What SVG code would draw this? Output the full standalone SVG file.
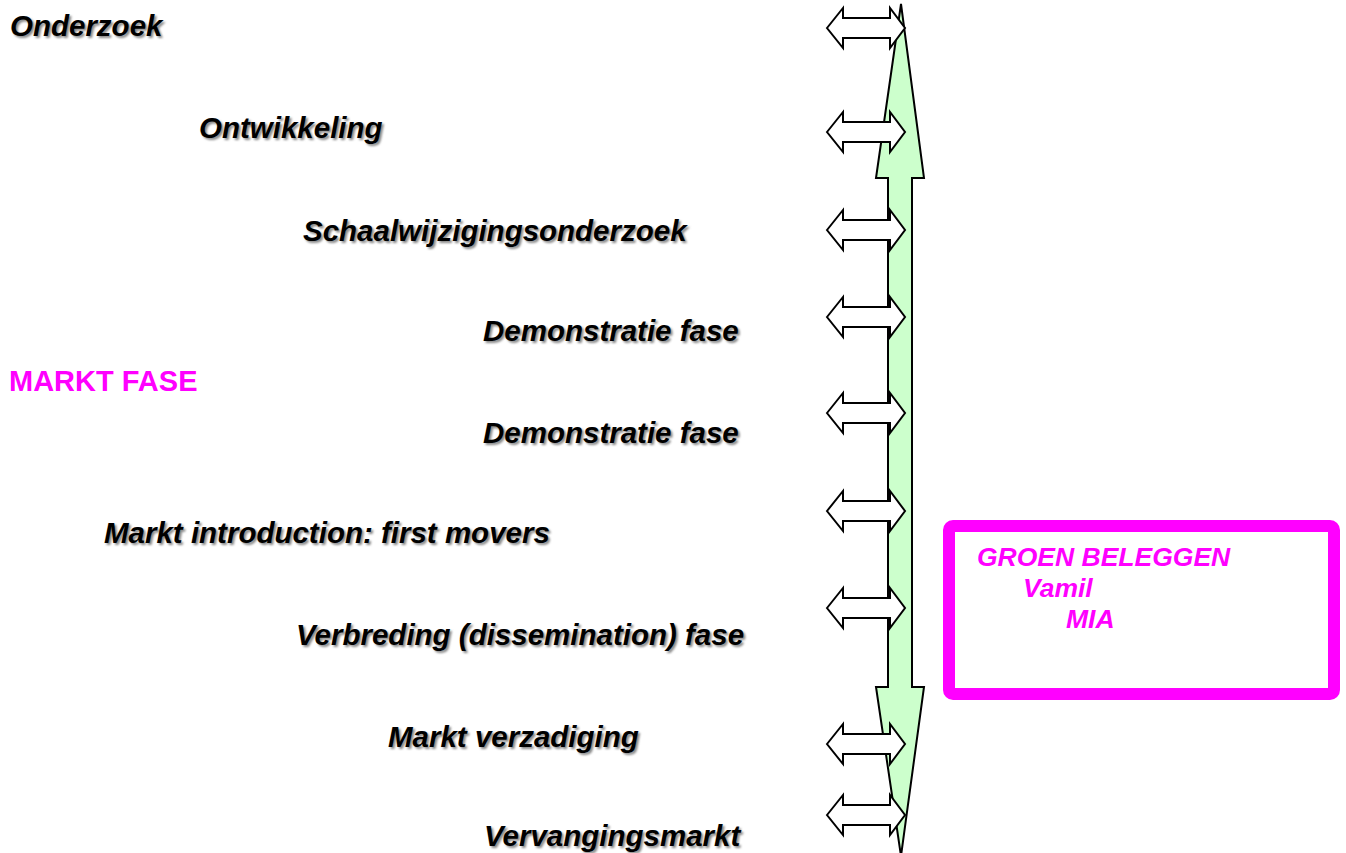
<svg xmlns="http://www.w3.org/2000/svg" width="1346" height="853" viewBox="0 0 1346 853">
  <defs>
    <filter id="blur" x="-5%" y="-20%" width="110%" height="140%">
      <feGaussianBlur stdDeviation="1"/>
    </filter>
    <path id="dbl" d="M-74,0 L-58,-20 L-58,-10 L-11,-10 L-11,-20 L4,0 L-11,20 L-11,10 L-58,10 L-58,20 Z"/>
  </defs>
  <style>
    .lbl { font-family: "Liberation Sans", Arial, sans-serif; font-weight: bold; font-style: italic; font-size: 29.5px; fill: #000; }
    .shd { font-family: "Liberation Sans", Arial, sans-serif; font-weight: bold; font-style: italic; font-size: 29.5px; fill: #888; filter: url(#blur); }
    .pink { font-family: "Liberation Sans", Arial, sans-serif; font-weight: bold; font-size: 29px; fill: #FF00FF; }
    .pinki { font-family: "Liberation Sans", Arial, sans-serif; font-weight: bold; font-style: italic; font-size: 26.5px; fill: #FF00FF; }
    .small { fill: #fff; stroke: #000; stroke-width: 2; stroke-linejoin: miter; }
    .big { fill: #CCFFCC; stroke: #000; stroke-width: 2; }
  </style>
  <rect width="1346" height="853" fill="#fff"/>

  <g id="connectors">
    <path class="big" d="M901,4 L924,178 L912,178 L912,687 L924,687 L901,856 L876,687 L888,687 L888,178 L876,178 Z"/>
    <use href="#dbl" class="small" x="901" y="28"/>
    <use href="#dbl" class="small" x="901" y="132"/>
    <use href="#dbl" class="small" x="901" y="230"/>
    <use href="#dbl" class="small" x="901" y="317"/>
    <use href="#dbl" class="small" x="901" y="413"/>
    <use href="#dbl" class="small" x="901" y="511"/>
    <use href="#dbl" class="small" x="901" y="608"/>
    <use href="#dbl" class="small" x="901" y="744"/>
    <use href="#dbl" class="small" x="901" y="815"/>
  </g>

  <g id="onderzoek">
    <text class="shd" x="12" y="38">Onderzoek</text>
    <text class="lbl" x="10" y="36">Onderzoek</text>
  </g>
  <g id="ontwikkeling">
    <text class="shd" x="201" y="140">Ontwikkeling</text>
    <text class="lbl" x="199" y="138">Ontwikkeling</text>
  </g>
  <g id="schaal">
    <text class="shd" x="305" y="243">Schaalwijzigingsonderzoek</text>
    <text class="lbl" x="303" y="241">Schaalwijzigingsonderzoek</text>
  </g>
  <g id="demo1">
    <text class="shd" x="485" y="343">Demonstratie fase</text>
    <text class="lbl" x="483" y="341">Demonstratie fase</text>
  </g>
  <g id="marktfase">
    <text class="pink" x="9" y="391">MARKT FASE</text>
  </g>
  <g id="demo2">
    <text class="shd" x="485" y="445">Demonstratie fase</text>
    <text class="lbl" x="483" y="443">Demonstratie fase</text>
  </g>
  <g id="introductie">
    <text class="shd" x="106" y="545">Markt introduction: first movers</text>
    <text class="lbl" x="104" y="543">Markt introduction: first movers</text>
  </g>
  <g id="verbreding">
    <text class="shd" x="298" y="647">Verbreding (dissemination) fase</text>
    <text class="lbl" x="296" y="645">Verbreding (dissemination) fase</text>
  </g>
  <g id="verzadiging">
    <text class="shd" x="390" y="749">Markt verzadiging</text>
    <text class="lbl" x="388" y="747">Markt verzadiging</text>
  </g>
  <g id="vervanging">
    <text class="shd" x="486" y="848">Vervangingsmarkt</text>
    <text class="lbl" x="484" y="846">Vervangingsmarkt</text>
  </g>

  <g id="groen">
    <rect x="949" y="526" width="385" height="168" rx="4" fill="#fff" stroke="#FF00FF" stroke-width="12"/>
    <text class="pinki" x="977" y="566">GROEN BELEGGEN</text>
    <text class="pinki" x="1023" y="597">Vamil</text>
    <text class="pinki" x="1066" y="628">MIA</text>
  </g>
</svg>
